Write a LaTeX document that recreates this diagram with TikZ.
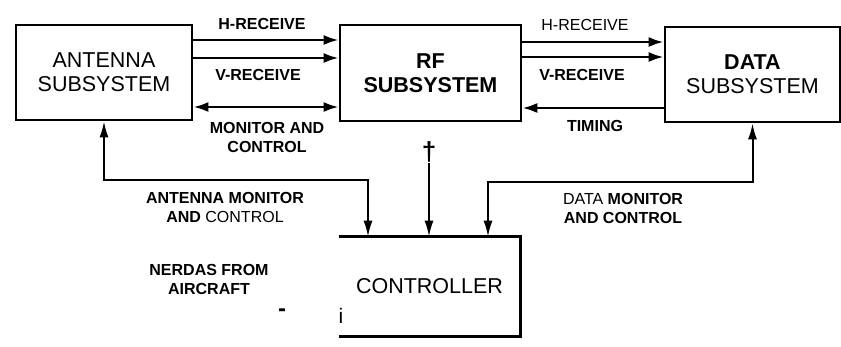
\documentclass[tikz,border=0pt]{standalone}
\usepackage{fontspec}
\setmainfont{Liberation Sans}
\usetikzlibrary{arrows.meta}

\begin{document}
\begin{tikzpicture}[x=1pt, y=-1pt,
    box/.style={draw, line width=2.6pt, inner sep=0pt, align=center, font=\fontsize{21.5}{24}\selectfont},
    lbl/.style={inner sep=0pt, align=center, font=\bfseries\fontsize{16}{19}\selectfont},
    sig/.style={line width=2.6pt, -{Latex[length=15pt,width=10pt]}},
    vsig/.style={line width=2pt, -{Latex[length=16pt,width=9pt]}}]
    \useasboundingbox (0,0) rectangle (841,346);
    % blocks
    \node[box, minimum width=176pt, minimum height=95pt] (ant) at (104,72.5) {ANTENNA\\SUBSYSTEM};
    \node[box, minimum width=181pt, minimum height=96pt] (rf) at (430.5,73) {\bfseries RF\\\bfseries SUBSYSTEM};
    \node[box, minimum width=175pt, minimum height=95pt] (dat) at (752.5,74.5) {\bfseries DATA\\SUBSYSTEM};
    \node[box, draw=none, minimum width=179pt, minimum height=97pt] (ctl) at (429.5,286.5) {CONTROLLER};
    \draw[line width=2.6pt] (ctl.north west) -- (ctl.north east) -- (ctl.south east) -- (ctl.south west);
    % antenna <-> rf
    \draw[sig] (ant.east |- 0,40) -- (rf.west |- 0,40);
    \draw[sig] (ant.east |- 0,58) -- (rf.west |- 0,58);
    \draw[sig, {Latex[length=15pt,width=10pt]}-{Latex[length=15pt,width=10pt]}] (ant.east |- 0,107) -- (rf.west |- 0,107);
    \node[lbl] (hrxa) at (262,24) {H-RECEIVE};
    \node[lbl] (vrxa) at (258,75) {V-RECEIVE};
    \node[lbl] (mca) at (267,137) {MONITOR AND\\CONTROL};
    % rf <-> data
    \draw[sig] (rf.east |- 0,42) -- (dat.west |- 0,42);
    \draw[sig] (rf.east |- 0,57) -- (dat.west |- 0,57);
    \draw[sig] (dat.west |- 0,108) -- (rf.east |- 0,108);
    \node[lbl, font=\fontsize{16}{19}\selectfont] (hrxb) at (585,25) {H-RECEIVE};
    \node[lbl] (vrxb) at (582,75) {V-RECEIVE};
    \node[lbl] (tim) at (595,126) {TIMING};
    % controller links
    \coordinate (acorner) at (368,180);
    \coordinate (dcorner) at (488,182);
    \draw[vsig, {Latex[length=16pt,width=9pt]}-{Latex[length=16pt,width=9pt]}] (ant.south) |- (acorner) -- (acorner |- ctl.north);
    \draw[vsig, {Latex[length=16pt,width=9pt]}-{Latex[length=16pt,width=9pt]}] (dat.south) |- (dcorner) -- (dcorner |- ctl.north);
    \node[inner sep=0pt, font=\bfseries\fontsize{26}{26}\selectfont] (dag) at (429,152) {\textdagger};
    \draw[vsig] (dag.south) -- (dag.south |- ctl.north);
    \node[lbl] (amc) at (225,207.5) {ANTENNA MONITOR\\AND {\mdseries CONTROL}};
    \node[lbl] (dmc) at (623,208.5) {{\mdseries DATA} MONITOR\\AND CONTROL};
    \node[lbl] (nerd) at (209,279) {NERDAS FROM\\AIRCRAFT};
    \node[inner sep=0pt, font=\bfseries\fontsize{24}{24}\selectfont] (dash) at (282,313) {-};
    \node[inner sep=0pt, font=\fontsize{21}{21}\selectfont] (ichar) at (341,316) {i};
\end{tikzpicture}
\end{document}
